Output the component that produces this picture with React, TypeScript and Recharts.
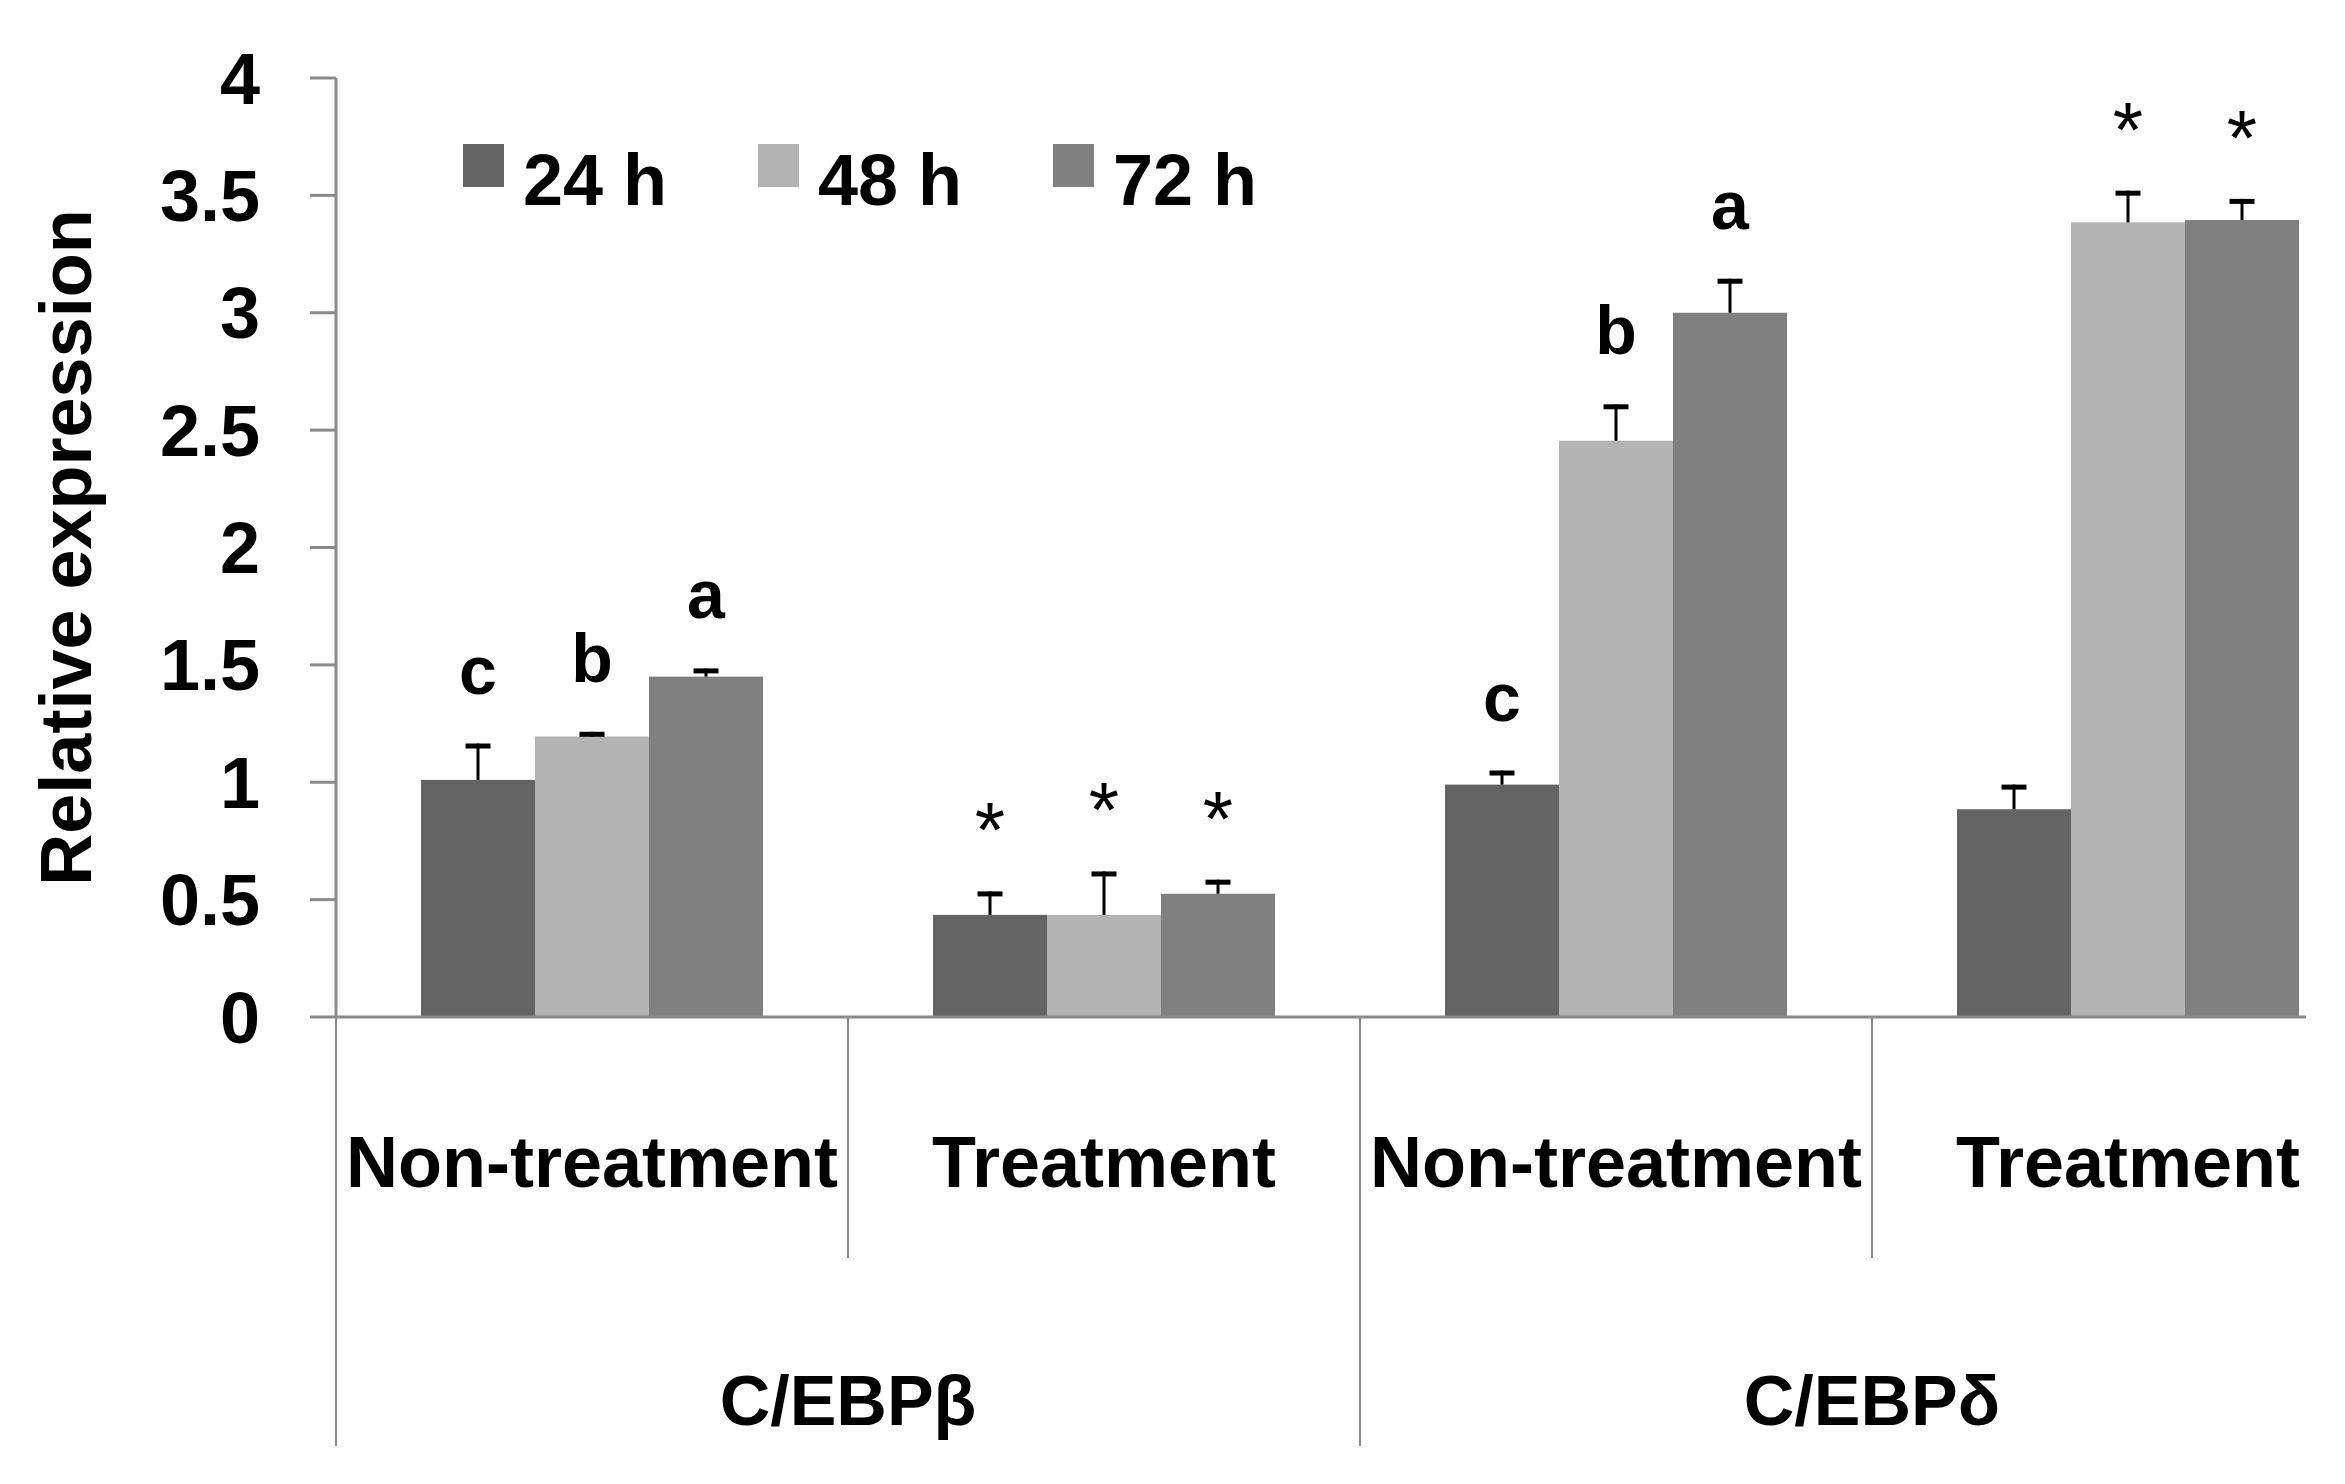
import React from 'react';
import { BarChart, Bar, XAxis, YAxis, Legend } from 'recharts';

const categories = ['Non-treatment', 'Treatment', 'Non-treatment', 'Treatment'];
const genes = ['C/EBPβ', 'C/EBPδ'];
const seriesNames = ['24 h', '48 h', '72 h'];
const yTicks = [0, 0.5, 1, 1.5, 2, 2.5, 3, 3.5, 4];

const mean24 = [1.01, 0.435, 0.99, 0.885];
const mean48 = [1.195, 0.435, 2.455, 3.385];
const mean72 = [1.45, 0.525, 3.0, 3.395];
const err24 = [0.155, 0.1, 0.06, 0.105];
const err48 = [0.02, 0.185, 0.155, 0.135];
const err72 = [0.035, 0.06, 0.145, 0.09];
const mark24 = ['c', '*', 'c', ''];
const mark48 = ['b', '*', 'b', '*'];
const mark72 = ['a', '*', 'a', '*'];

const colors = ['#646464', '#b3b3b3', '#808080'];
const FONT = "'Liberation Sans', Arial, Helvetica, sans-serif";
const AXIS = '#8a8a8a';

const data = categories.map((c, i) => ({
  cat: c,
  h24: mean24[i], h48: mean48[i], h72: mean72[i],
  e24: err24[i], e48: err48[i], e72: err72[i],
  m24: mark24[i], m48: mark48[i], m72: mark72[i],
}));

const makeShape = (valKey: string, errKey: string, markKey: string) => (p: any) => {
  const { x, y, width, height, fill, payload } = p;
  const v = payload[valKey];
  const ppu = v > 0 ? height / v : 0;
  const errTop = y - payload[errKey] * ppu;
  const cx = x + width / 2;
  const mark = payload[markKey];
  return (
    <g>
      <rect x={x} y={y} width={width} height={height} fill={fill} />
      <line x1={cx} y1={y} x2={cx} y2={errTop} stroke="#000" strokeWidth={3} />
      <rect x={cx - 12.5} y={errTop} width={25} height={5} fill="#000" />
      {mark === '*' ? (
        <text x={cx} y={errTop - 34} textAnchor="middle" fontSize={78} fontFamily={FONT} fill="#000">*</text>
      ) : mark ? (
        <text x={cx} y={errTop - 50} textAnchor="middle" fontSize={68} fontWeight="bold" fontFamily={FONT} fill="#000">{mark}</text>
      ) : null}
    </g>
  );
};

const CatTick = (props: any) => {
  const { x, y, payload, index, width, visibleTicksCount } = props;
  let band = 0;
  if (payload && payload.offset > 10) band = payload.offset * 2;
  else if (width && visibleTicksCount) band = width / visibleTicksCount;
  const half = band / 2;
  const left = x - half;
  const groupStart = index % 2 === 0;
  return (
    <g>
      <line x1={left} y1={y} x2={left} y2={y + (groupStart ? 429 : 241)} stroke={AXIS} strokeWidth={2} />
      <text x={x} y={y + 170} textAnchor="middle" fontSize={72} fontWeight="bold" fontFamily={FONT} fill="#000">{payload.value}</text>
      {groupStart ? (
        <text x={x + half} y={y + 408} textAnchor="middle" fontSize={70} fontWeight="bold" fontFamily={FONT} fill="#000">{genes[index / 2]}</text>
      ) : null}
    </g>
  );
};

const YTitle = (props: any) => {
  const vb = props.viewBox || { x: 0, y: 78, width: 336, height: 939 };
  const cx = vb.x + 91;
  const cy = vb.y + vb.height / 2;
  return (
    <text x={cx} y={cy} transform={`rotate(-90 ${cx} ${cy})`} textAnchor="middle" fontSize={72} fontWeight="bold" fontFamily={FONT} fill="#000">
      Relative expression
    </text>
  );
};

const LegendContent = (props: any) => {
  const payload = props.payload || [];
  return (
    <svg width={900} height={100} style={{ display: 'block' }}>
      {payload.map((e: any, i: number) => (
        <g key={i}>
          <rect x={i * 295} y={14} width={41} height={43} fill={e.color} />
          <text x={i * 295 + 60} y={75} fontSize={72} fontWeight="bold" fontFamily={FONT} fill="#000">{e.value}</text>
        </g>
      ))}
    </svg>
  );
};

export default function App() {
  return (
    <div style={{ position: 'absolute', left: 0, top: 0, width: 2306, height: 1484, overflow: 'hidden', background: '#fff' }}>
      <BarChart
        width={2400}
        height={1484}
        data={data}
        margin={{ top: 78, right: 16, bottom: 0, left: 0 }}
        barCategoryGap={85}
        barGap={0}
        style={{ fontFamily: FONT }}
      >
        <XAxis
          dataKey="cat"
          height={467}
          interval={0}
          axisLine={{ stroke: AXIS, strokeWidth: 3 }}
          tickLine={false}
          tickSize={0}
          tickMargin={0}
          tick={<CatTick />}
        />
        <YAxis
          type="number"
          domain={[0, 4]}
          ticks={yTicks}
          interval={0}
          width={336}
          axisLine={{ stroke: AXIS, strokeWidth: 3 }}
          tickLine={{ stroke: AXIS, strokeWidth: 3 }}
          tickSize={26}
          tickMargin={50}
          tick={{ fontSize: 72, fontWeight: 'bold', fill: '#000', fontFamily: FONT }}
          label={<YTitle />}
        />
        <Legend
          layout="vertical"
          align="center"
          verticalAlign="middle"
          content={<LegendContent />}
          wrapperStyle={{ position: 'absolute', left: 463, top: 130, width: 900, height: 100, margin: 0, padding: 0 }}
        />
        <Bar dataKey="h24" name={seriesNames[0]} fill={colors[0]} isAnimationActive={false} shape={makeShape('h24', 'e24', 'm24')} />
        <Bar dataKey="h48" name={seriesNames[1]} fill={colors[1]} isAnimationActive={false} shape={makeShape('h48', 'e48', 'm48')} />
        <Bar dataKey="h72" name={seriesNames[2]} fill={colors[2]} isAnimationActive={false} shape={makeShape('h72', 'e72', 'm72')} />
      </BarChart>
    </div>
  );
}
